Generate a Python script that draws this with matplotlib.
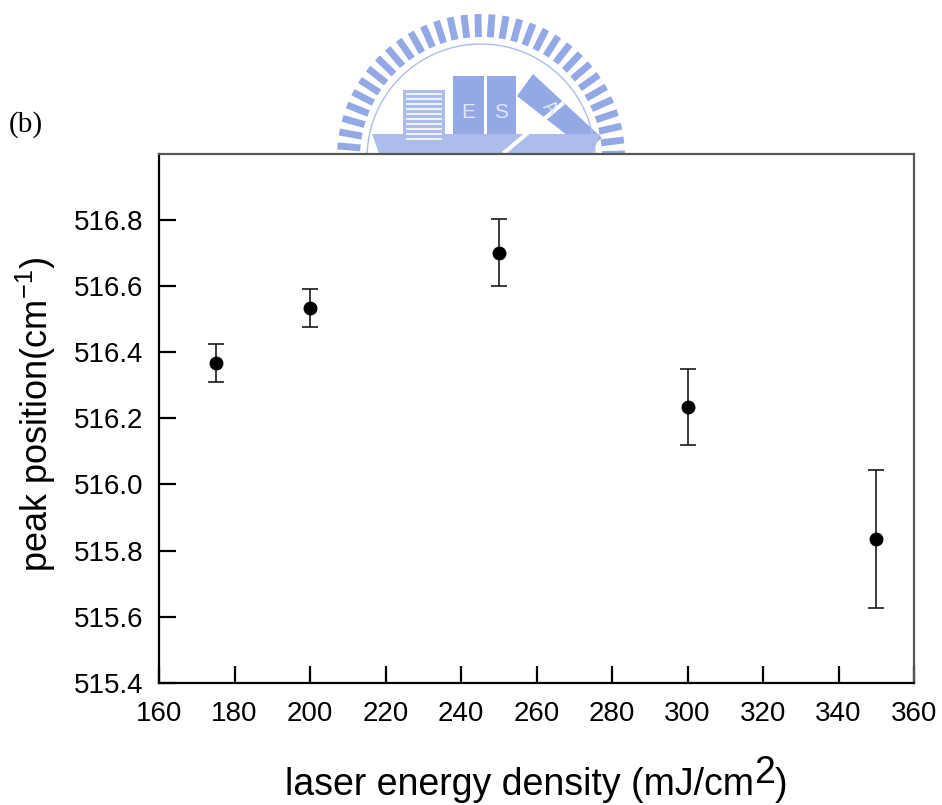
import numpy as np
import matplotlib
matplotlib.use("Agg")
import matplotlib.pyplot as plt
from matplotlib.transforms import IdentityTransform
from matplotlib.patches import Polygon, Rectangle

# Raman peak position vs. laser energy density
energy = [175, 200, 250, 300, 350]                       # mJ/cm^2
peak = [516.367, 516.533, 516.700, 516.234, 515.835]     # cm^-1
peak_err = [0.057, 0.057, 0.101, 0.114, 0.209]

x_ticks = [160, 180, 200, 220, 240, 260, 280, 300, 320, 340, 360]
y_ticks = [515.4, 515.6, 515.8, 516.0, 516.2, 516.4, 516.6, 516.8]

W, H = 942, 805
SANS = "Liberation Sans"
plt.rcParams["font.family"] = [SANS, "DejaVu Sans"]
plt.rcParams["mathtext.fontset"] = "custom"
plt.rcParams["mathtext.rm"] = SANS
plt.rcParams["mathtext.default"] = "regular"

fig = plt.figure(figsize=(W / 100, H / 100), dpi=100)
fig.patch.set_facecolor("white")
px = IdentityTransform()


def fy(y):
    """Pixel row measured from the top -> display y."""
    return H - y


# ---- institutional watermark drawn behind the plot ----
wm = fig.add_axes([0, 0, 1, 1], zorder=0)
wm.set_xlim(0, W)
wm.set_ylim(H, 0)
wm.axis("off")
blue = "#93a8e5"
pale = "#adbdeb"
cx, cy = 481, 158
for ang in np.arange(-4, 186, 5.6):
    a = np.deg2rad(ang)
    r0, r1 = 121, 144
    wm.plot([cx + r0 * np.cos(a), cx + r1 * np.cos(a)],
            [cy - r0 * np.sin(a), cy - r1 * np.sin(a)],
            color=blue, lw=5.0, solid_capstyle="butt")
t = np.linspace(np.deg2rad(-3), np.deg2rad(183), 200)
wm.plot(cx + 114 * np.cos(t), cy - 114 * np.sin(t), color=pale, lw=1.0)
# buildings
wm.add_patch(Rectangle((403, 90), 42, 55, color=pale, lw=0))
for yy in np.arange(94, 140, 5):
    wm.plot([407, 441], [yy, yy], color="white", lw=1.2)
wm.add_patch(Rectangle((453, 76), 31, 70, color=blue, lw=0))
wm.add_patch(Rectangle((487, 76), 29, 70, color=blue, lw=0))
wm.add_patch(Polygon([(517, 96), (533, 74), (602, 138), (586, 150)],
                     closed=True, color=blue, lw=0))
wm.text(468, 113, "E", color="#dfe6fa", fontsize=15, ha="center", va="center")
wm.text(501, 113, "S", color="#dfe6fa", fontsize=15, ha="center", va="center")
wm.text(550, 108, "A", color="#dfe6fa", fontsize=14, ha="center",
        va="center", rotation=-45)
wm.add_patch(Polygon([(372, 134), (600, 134), (592, 156), (380, 156)],
                     closed=True, color=pale, lw=0))
wm.plot([505, 562], [152, 104], color="white", lw=3)

# ---- main plot ----
ax = fig.add_axes([159 / W, 1 - 683 / H, (914 - 159) / W, (683 - 153.6) / H],
                  zorder=2)
ax.set_facecolor("white")
ax.errorbar(energy, peak, yerr=peak_err, fmt="o", color="black",
            ecolor="#1a1a1a", elinewidth=1.2, capsize=5.8, capthick=1.2,
            markersize=9)

ax.set_xlim(160, 360)
ax.set_ylim(515.4, 517.0)
ax.set_xticks(x_ticks)
ax.set_xticklabels([str(v) for v in x_ticks])
ax.set_yticks(y_ticks)
ax.set_yticklabels([f"{v:.1f}" for v in y_ticks])
ax.tick_params(axis="both", direction="in", length=12, width=1.6,
               labelsize=20, top=False, right=False, color="black")
ax.tick_params(axis="x", pad=13)
ax.tick_params(axis="y", pad=11)
for side in ("left", "bottom"):
    ax.spines[side].set_color("black")
    ax.spines[side].set_linewidth(1.6)
for side in ("top", "right"):
    ax.spines[side].set_color("#555555")
    ax.spines[side].set_linewidth(1.6)

# y-axis title
fig.text(36, fy(414), r"peak position(cm$^{-1}$)", transform=px,
         rotation=90, ha="center", va="center", fontsize=26)

# x-axis title with a full-size raised exponent
xl_parts = [("laser energy density (mJ/cm", 0), ("2", 11.7), (")", 0)]
xl_texts = [fig.text(0, fy(795) + dy, s, transform=px, fontsize=27,
                     ha="left", va="baseline") for s, dy in xl_parts]
fig.canvas.draw()
renderer = fig.canvas.get_renderer()
widths = [tx.get_window_extent(renderer).width for tx in xl_texts]
x0 = (159 + 914) / 2 - sum(widths) / 2
for tx, w, (s, dy) in zip(xl_texts, widths, xl_parts):
    tx.set_position((x0, fy(795) + dy))
    x0 += w

# panel tag
fig.text(9, fy(125), "(b)", transform=px, fontsize=21,
         family=["Liberation Serif", "DejaVu Serif"], ha="left", va="center")

fig.savefig("out.png", dpi=100, facecolor="white")
